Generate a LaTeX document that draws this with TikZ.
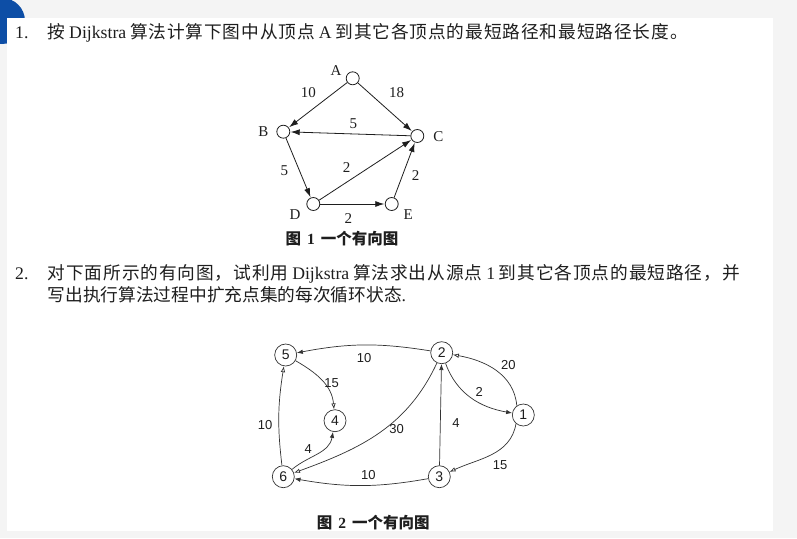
\documentclass[tikz,border=0pt]{standalone}
\usepackage{fontspec}
\setmainfont{Liberation Serif}
\newfontfamily\cjk{Noto Sans CJK SC}
\newfontfamily\cjksp[LetterSpace=5]{Noto Sans CJK SC}
\newfontfamily\arial{Liberation Sans}
\usetikzlibrary{arrows.meta}
\definecolor{bggray}{HTML}{F4F4F4}
\definecolor{cornerblue}{HTML}{0D4EA6}
\definecolor{ink}{HTML}{1E1E1E}
\definecolor{ink2}{HTML}{333333}
\tikzset{
  body/.style={font=\fontsize{17.7}{20}\selectfont, text=ink, inner sep=0pt, anchor=base west},
  vone/.style={circle, draw=ink, line width=0.8pt, minimum size=13pt, inner sep=0pt},
  labone/.style={font=\fontsize{15}{17}\selectfont, text=ink, inner sep=0pt},
  eone/.style={draw=ink, line width=0.8pt, -{Latex[length=9pt,width=6pt]}, shorten >=0.5pt},
  vtwo/.style={circle, draw=ink2, line width=0.7pt, minimum size=22pt, inner sep=0pt, font=\arial\fontsize{14}{16}\selectfont, text=ink},
  labtwo/.style={font=\arial\fontsize{13}{15}\selectfont, text=ink, inner sep=0pt},
  etwo/.style={draw=ink2, line width=0.7pt, -{Latex[length=6pt,width=4.5pt]}},
  etwoo/.style={draw=ink2, line width=0.7pt, -{Latex[open,length=6pt,width=4.5pt]}},
  capt/.style={font=\cjk\bfseries\fontsize{15.5}{18}\selectfont, text=ink, inner sep=0pt}
}
\begin{document}
\begin{tikzpicture}[x=1pt,y=1pt]
\useasboundingbox (0,0) rectangle (797,-538);
\begin{scope}
  \clip (0,0) rectangle (797,-538);
  \fill[bggray] (0,0) rectangle (797,-538);
  \fill[cornerblue] (2,-21) circle (23pt);
  \fill[white] (7,-18) rectangle (773,-531);
\end{scope}

% ---- text ----
\node[body] (n1txt) at (15,-38) {1.};
\node[body] (l1) at (47.5,-38) {\makebox[640pt][s]{{\cjksp 按} Dijkstra {\cjksp 算法计算下图中从顶点} A {\cjksp 到其它各顶点的最短路径和最短路径长度。}}};
\node[body] (n2txt) at (15,-279) {2.};
\node[body] (l2) at (47.5,-279) {\makebox[692pt][s]{{\cjksp 对下面所示的有向图，试利用} Dijkstra {\cjksp 算法求出从源点} 1 {\cjksp 到其它各顶点的最短路径，并}}};
\node[body] (l3) at (47.5,-301.5) {{\cjk 写出执行算法过程中扩充点集的每次循环状态}.};

% ---- figure 1 ----
\node[vone] (A) at (352.7,-78.3) {};
\node[vone] (B) at (283.3,-131.7) {};
\node[vone] (C) at (417.3,-136) {};
\node[vone] (D) at (313.3,-204) {};
\node[vone] (E) at (391.7,-204) {};
\node[labone] (lA) at (336,-70.7) {A};
\node[labone] (lB) at (263.3,-131.7) {B};
\node[labone] (lC) at (438.3,-136.7) {C};
\node[labone] (lD) at (295,-215) {D};
\node[labone] (lE) at (408.3,-215) {E};
\draw[eone] (A) -- (B);
\draw[eone] (A) -- (C);
\draw[eone] (C) -- (B);
\draw[eone] (B) -- (D);
\draw[eone] (D) -- (C);
\draw[eone] (D) -- (E);
\draw[eone] (E) -- (C);
\node[labone] (w1) at (308.3,-92.7) {10};
\node[labone] (w2) at (396.7,-92.7) {18};
\node[labone] (w3) at (353.3,-124) {5};
\node[labone] (w4) at (284.3,-170.7) {5};
\node[labone] (w5) at (346.7,-167.3) {2};
\node[labone] (w6) at (415.7,-176) {2};
\node[labone] (w7) at (348.3,-218.3) {2};
\node[capt] (cap1) at (342,-238.5) {图\hspace{6pt}{\rmfamily\bfseries 1}\hspace{6pt}一个有向图};

% ---- figure 2 ----
\node[vtwo] (n5) at (285.7,-355) {5};
\node[vtwo] (n2) at (441.7,-352.7) {2};
\node[vtwo] (n4) at (335,-420.7) {4};
\node[vtwo] (n1) at (523.3,-415) {1};
\node[vtwo] (n6) at (283.3,-476.7) {6};
\node[vtwo] (n3) at (439.3,-476.7) {3};
\draw[etwo] (n2) to[bend right=10] (n5);
\draw[etwoo] (n5) to[out=-30,in=95] (n4);
\draw[etwoo] (n6) to[bend left=8] (n5);
\draw[etwo] (n6) to[out=40,in=-100] (n4);
\draw[etwoo] (n2) to[out=-115,in=20] (n6);
\draw[etwo] (n3) -- (n2);
\draw[etwo] (n3) to[bend left=10] (n6);
\draw[etwoo] (n1.125) to[out=95,in=-10] (n2);
\draw[etwo] (n2) to[out=-70,in=170] (n1);
\draw[etwoo] (n1.-130) to[out=-100,in=25] (n3);
\node[labtwo] (t1) at (364,-358.3) {10};
\node[labtwo] (t2) at (331.7,-383.3) {15};
\node[labtwo] (t3) at (265,-425) {10};
\node[labtwo] (t4) at (308.3,-449.3) {4};
\node[labtwo] (t5) at (396.7,-429.3) {30};
\node[labtwo] (t6) at (456,-423.3) {4};
\node[labtwo] (t7) at (368.3,-475) {10};
\node[labtwo] (t8) at (508.3,-365) {20};
\node[labtwo] (t9) at (479.3,-391.7) {2};
\node[labtwo] (t10) at (500,-465) {15};
\node[capt] (cap2) at (373.3,-522.7) {图\hspace{6pt}{\rmfamily\bfseries 2}\hspace{6pt}一个有向图};
\end{tikzpicture}
\end{document}
